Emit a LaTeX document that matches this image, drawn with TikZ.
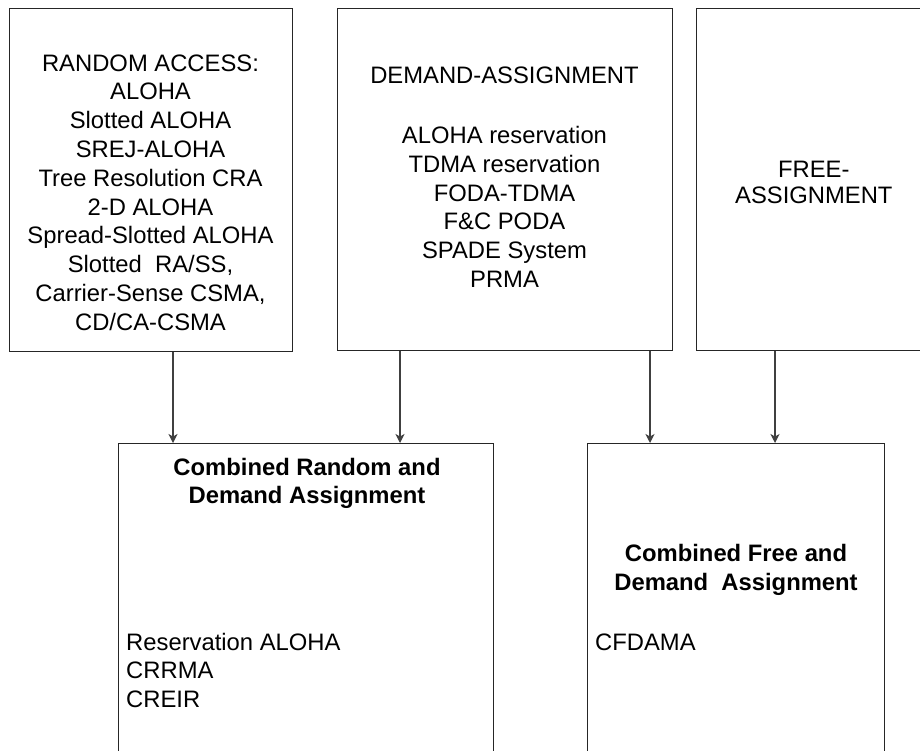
\documentclass[tikz,border=0pt]{standalone}
\usepackage{fontspec}
\setmainfont{Liberation Sans}
\usetikzlibrary{arrows.meta}
\begin{document}
\begin{tikzpicture}[x=1pt,y=-1pt,
  box/.style={draw=black!85, line width=1.2pt, rectangle, inner sep=0pt, anchor=north west},
  txt/.style={inner sep=0pt, font=\fontsize{23.8pt}{28.8pt}\selectfont},
  link/.style={draw=black!75, line width=1.2pt, -{Stealth[length=9pt,width=9pt,inset=2.5pt]}}]
\useasboundingbox (0,0) rectangle (920,750);
\clip (0,0) rectangle (920,750);

% upper row: the three access families
\node[box, minimum width=283pt, minimum height=343pt] (ra) at (9,8) {};
\node[box, minimum width=335pt, minimum height=342pt] (da) at (337,7.5) {};
\node[box, minimum width=250pt, minimum height=342pt] (fa) at (696,7.5) {};

% lower row: the combined schemes (open towards the bottom)
\node[box, minimum width=375pt, minimum height=340pt] (crd) at (118,443) {};
\node[box, minimum width=297pt, minimum height=340pt] (cfd) at (587,443) {};

% texts of the upper row
\node[txt, anchor=base] (ratext) at (150.5,71) {\begin{tabular}[t]{@{}c@{}}
RANDOM ACCESS:\\ALOHA\\Slotted ALOHA\\SREJ-ALOHA\\Tree Resolution CRA\\2-D ALOHA\\
Spread-Slotted ALOHA\\Slotted\ \ RA/SS,\\Carrier-Sense CSMA,\\CD/CA-CSMA\end{tabular}};

\node[txt, anchor=base] (datitle) at (504.5,83) {DEMAND-ASSIGNMENT};
\node[txt, anchor=base] (datext) at (504.5,143.5) {\begin{tabular}[t]{@{}c@{}}
ALOHA reservation\\TDMA reservation\\FODA-TDMA\\F\&C PODA\\SPADE System\\PRMA\end{tabular}};

\node[txt, anchor=base] (fatext1) at (813.8,177) {FREE-};
\node[txt, anchor=base] (fatext2) at (813.8,203) {ASSIGNMENT};

% texts of the lower row
\node[txt, anchor=base, font=\fontsize{23.8pt}{28.5pt}\selectfont\bfseries] (crdtitle) at (307,475) {\begin{tabular}[t]{@{}c@{}}
Combined Random and\\Demand Assignment\end{tabular}};
\node[txt, anchor=base west] (crdtext) at (126,650) {\begin{tabular}[t]{@{}l@{}}
Reservation ALOHA\\CRRMA\\CREIR\end{tabular}};

\node[txt, anchor=base, font=\fontsize{23.8pt}{29pt}\selectfont\bfseries] (cfdtitle) at (736,561) {\begin{tabular}[t]{@{}c@{}}
Combined Free and\\Demand\ \ Assignment\end{tabular}};
\node[txt, anchor=base west] (cfdtext) at (595,650) {CFDAMA};

% connectors
\coordinate (x1) at (173,0);
\coordinate (x2) at (400,0);
\coordinate (x3) at (650,0);
\coordinate (x4) at (775,0);
\draw[link] (x1 |- ra.south) -- (x1 |- crd.north);
\draw[link] (x2 |- da.south) -- (x2 |- crd.north);
\draw[link] (x3 |- da.south) -- (x3 |- cfd.north);
\draw[link] (x4 |- fa.south) -- (x4 |- cfd.north);
\end{tikzpicture}
\end{document}
